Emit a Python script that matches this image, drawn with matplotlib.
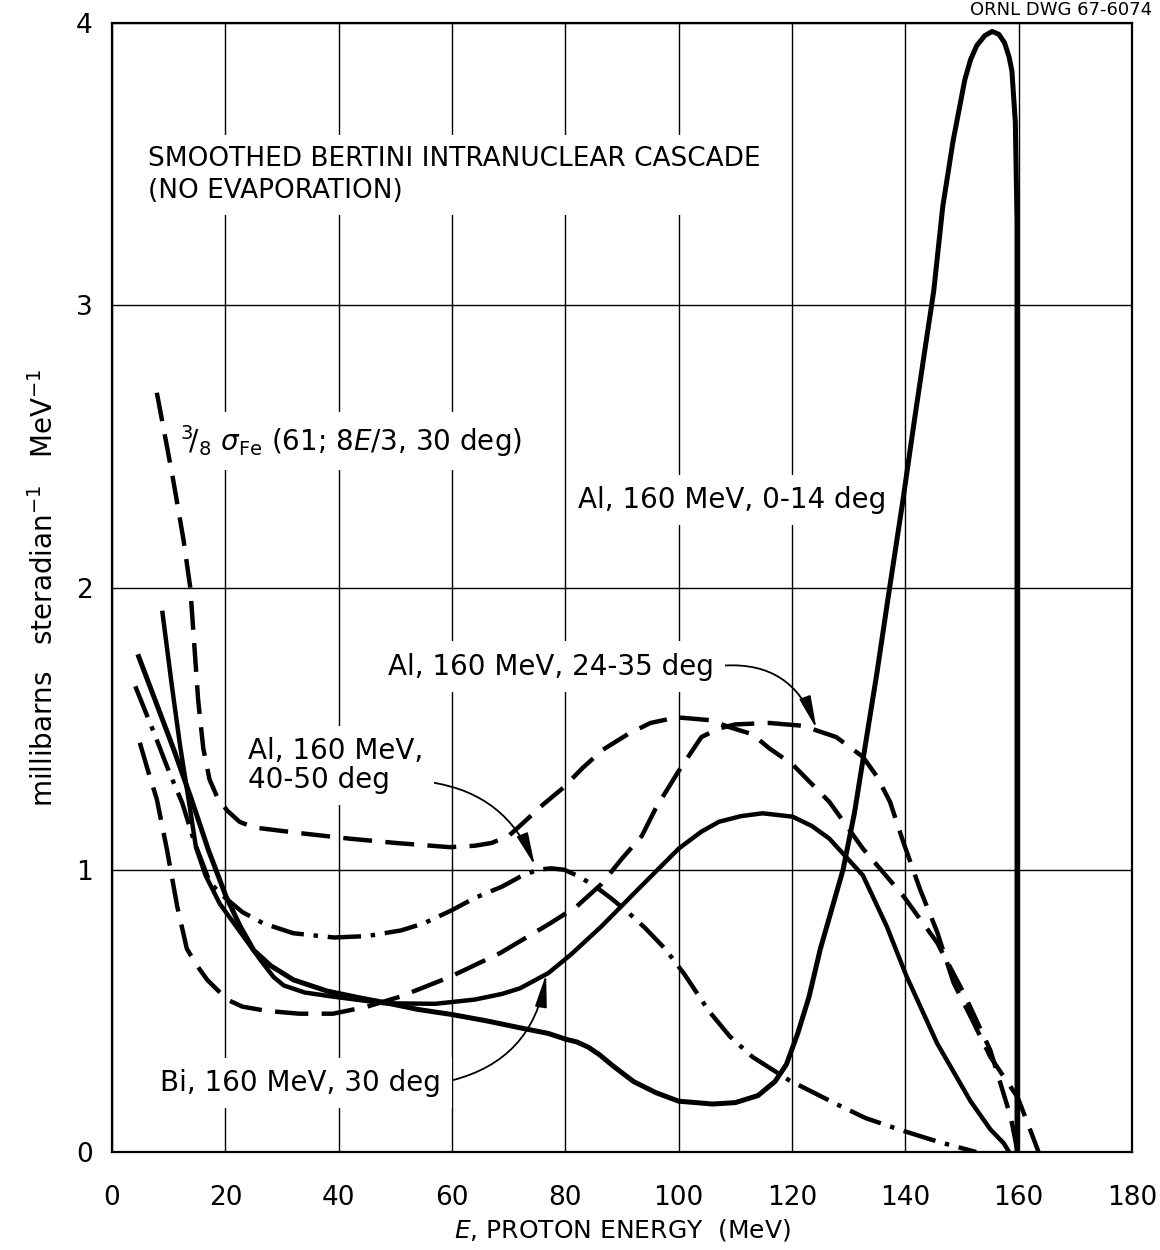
import matplotlib
matplotlib.use("Agg")
import matplotlib.pyplot as plt

plt.rcParams['font.family'] = ['DejaVu Sans']
plt.rcParams['mathtext.fontset'] = 'dejavusans'

# Al, 160 MeV, 0-14 deg (solid)
al14_e = [4.7, 8, 11, 14, 17, 20.1, 22.6, 25, 28, 32, 38, 44, 48, 54, 60, 66, 72, 77, 80, 82, 84, 86, 88.4, 92,
          96, 100, 106, 110, 114, 117, 119, 121, 123, 125, 127, 129, 131, 133, 135, 137, 139.5, 141.5, 143.5,
          145, 146.6, 148.4, 150.5, 151.5, 152.6, 154, 155.3, 156.5, 157.5, 158.3, 158.8, 159.4, 159.7, 159.7]
al14_y = [1.755, 1.58, 1.42, 1.25, 1.07, 0.906, 0.8, 0.715, 0.66, 0.61, 0.57, 0.545, 0.53, 0.505, 0.487, 0.465,
          0.44, 0.42, 0.40, 0.39, 0.372, 0.345, 0.305, 0.25, 0.21, 0.18, 0.17, 0.175, 0.2, 0.25, 0.31, 0.42,
          0.55, 0.72, 0.86, 1.0, 1.2, 1.45, 1.7, 1.97, 2.3, 2.58, 2.85, 3.05, 3.35, 3.58, 3.8, 3.87, 3.92,
          3.955, 3.97, 3.96, 3.93, 3.88, 3.83, 3.65, 3.3, 0.0]

# Bi, 160 MeV, 30 deg (solid)
bi_e = [8.9, 10.5, 12, 13.5, 14.8, 16.5, 19, 22.6, 26.2, 28.5, 30.3, 34, 39.2, 48, 57, 64, 68.8, 72, 77, 81,
        86.4, 92.3, 100, 104, 107.1, 111, 114.8, 120.1, 123.5, 126.6, 132.5, 136.7, 140.2, 145.6, 151.5, 155,
        157.4, 158.3]
bi_y = [1.91, 1.66, 1.44, 1.25, 1.08, 0.98, 0.88, 0.78, 0.68, 0.62, 0.59, 0.565, 0.55, 0.527, 0.525, 0.54,
        0.56, 0.58, 0.634, 0.70, 0.80, 0.92, 1.075, 1.135, 1.17, 1.19, 1.2, 1.188, 1.155, 1.11, 0.98, 0.80,
        0.623, 0.385, 0.18, 0.08, 0.03, 0.0]

# 3/8 sigma_Fe (61; 8E/3, 30 deg) (dashed)
fe_e = [7.9, 9.5, 10.8, 12.6, 13.8, 14.5, 15.2, 16.1, 17.2, 18.5, 20.3, 22.5, 25, 33, 42, 50, 59.6, 64, 67, 70,
        72.5, 76, 79.6, 83, 86.6, 91, 95, 99.7, 105.5, 109, 113, 116, 120.1, 126.6, 132.5, 139.6, 145.6, 150.3,
        155, 158.6, 159.8]
fe_y = [2.69, 2.52, 2.38, 2.17, 2.0, 1.8, 1.6, 1.43, 1.32, 1.26, 1.21, 1.17, 1.15, 1.13, 1.11, 1.095, 1.08,
        1.085, 1.095, 1.12, 1.165, 1.23, 1.29, 1.36, 1.425, 1.48, 1.52, 1.54, 1.53, 1.505, 1.48, 1.43, 1.373,
        1.24, 1.075, 0.908, 0.742, 0.563, 0.36, 0.123, 0.0]

# Al, 160 MeV, 24-35 deg (dashed)
al24_e = [4.9, 6.5, 7.9, 9.7, 11.5, 13.2, 15, 16.8, 20.3, 23, 27.3, 33, 39, 45, 50.8, 59.6, 68.5, 77.3, 82,
          86.4, 90, 93.5, 96, 100, 104, 107, 110, 116, 121.9, 127.8, 132.5, 135, 137.3, 139.6, 142.6, 145.6,
          148.5, 151.5, 155, 159.8, 162, 163.5]
al24_y = [1.45, 1.34, 1.25, 1.07, 0.87, 0.72, 0.66, 0.61, 0.54, 0.515, 0.50, 0.49, 0.49, 0.515, 0.55, 0.62,
          0.705, 0.81, 0.87, 0.95, 1.04, 1.12, 1.22, 1.35, 1.47, 1.50, 1.515, 1.52, 1.51, 1.47, 1.40, 1.33,
          1.24, 1.10, 0.93, 0.78, 0.6, 0.48, 0.337, 0.194, 0.08, 0.0]

# Al, 160 MeV, 40-50 deg (dash-dot)
al40_e = [4.1, 7.7, 10, 12.4, 14.5, 17.3, 20, 23, 26.7, 32, 39.2, 45, 51, 55, 59.9, 64, 68.8, 72, 75.1, 77.5,
          79.8, 82, 85, 88, 91, 94, 97.6, 101, 105.3, 109, 113, 119.5, 127.8, 133, 139.6, 146, 152.5]
al40_y = [1.65, 1.47, 1.35, 1.236, 1.1, 0.953, 0.9, 0.85, 0.81, 0.775, 0.76, 0.765, 0.785, 0.81, 0.856, 0.9,
          0.94, 0.975, 1.0, 1.005, 1.0, 0.98, 0.945, 0.9, 0.85, 0.795, 0.72, 0.63, 0.5, 0.41, 0.337, 0.254,
          0.17, 0.12, 0.075, 0.035, 0.0]

xticks = list(range(0, 181, 20))
yticks = [0, 1, 2, 3, 4]

fig = plt.figure(figsize=(11.6, 12.5), dpi=100)
ax = fig.add_axes([0.0966, 0.0784, 0.8793, 0.9032])

ax.plot(al14_e, al14_y, color='black', lw=3.6, zorder=3)
ax.plot(bi_e, bi_y, color='black', lw=3.2, zorder=3)
ax.plot(fe_e, fe_y, color='black', lw=3.2, linestyle=(0, (6.5, 3.0)), zorder=3)
ax.plot(al24_e, al24_y, color='black', lw=3.2, linestyle=(0, (7.5, 3.0)), zorder=3)
ax.plot(al40_e, al40_y, color='black', lw=3.2, linestyle=(0, (7.5, 2.2, 1.0, 2.2)), zorder=3)

ax.set_xlim(0, 180)
ax.set_ylim(0, 4)
ax.set_xticks(xticks)
ax.set_yticks(yticks)
ax.tick_params(length=0, labelsize=19)
ax.tick_params(axis='x', pad=24)
ax.tick_params(axis='y', pad=14)
ax.grid(True, color='black', lw=1.0)
ax.set_axisbelow(True)
for s in ax.spines.values():
    s.set_linewidth(1.6)

ax.set_xlabel("$E$, PROTON ENERGY  (MeV)", fontsize=18, labelpad=4)
ax.set_ylabel("millibarns   steradian$^{-1}$   MeV$^{-1}$", fontsize=20, labelpad=12)

box = dict(facecolor='white', edgecolor='none', pad=8)
fs = 20

ax.text(6.4, 3.46, "SMOOTHED BERTINI INTRANUCLEAR CASCADE\n(NO EVAPORATION)", fontsize=19,
        ha='left', va='center', linespacing=1.3, bbox=box, zorder=2)
ax.text(12.0, 2.52, r"$^{3}\!/_{8}\ \sigma_{\mathrm{Fe}}$ (61; 8$E$/3, 30 deg)", fontsize=fs,
        ha='left', va='center', bbox=box, zorder=2)
ax.text(82.2, 2.31, "Al, 160 MeV, 0-14 deg", fontsize=fs, ha='left', va='center', bbox=box, zorder=2)

ax.annotate("Al, 160 MeV, 24-35 deg", xy=(124.3, 1.50), xytext=(48.7, 1.72), fontsize=fs,
            ha='left', va='center', bbox=box, zorder=2,
            arrowprops=dict(arrowstyle='-|>,head_length=1.0,head_width=0.18', color='black', lw=1.3,
                            connectionstyle='arc3,rad=-0.4', shrinkA=0, shrinkB=0,
                            relpos=(1.0, 0.5)))
ax.annotate("Al, 160 MeV,\n40-50 deg", xy=(74.6, 1.015), xytext=(24.0, 1.37), fontsize=fs,
            ha='left', va='center', linespacing=1.05, bbox=box, zorder=2,
            arrowprops=dict(arrowstyle='-|>,head_length=1.0,head_width=0.18', color='black', lw=1.3,
                            connectionstyle='arc3,rad=-0.3', shrinkA=0, shrinkB=0,
                            relpos=(1.0, 0.22)))
ax.annotate("Bi, 160 MeV, 30 deg", xy=(76.6, 0.63), xytext=(8.5, 0.245), fontsize=fs,
            ha='left', va='center', bbox=box, zorder=2,
            arrowprops=dict(arrowstyle='-|>,head_length=1.0,head_width=0.18', color='black', lw=1.3,
                            connectionstyle='arc3,rad=0.35', shrinkA=0, shrinkB=0,
                            relpos=(1.0, 0.5)))

fig.text(0.993, 0.9995, "ORNL DWG 67-6074", fontsize=13, ha='right', va='top')

fig.savefig("out.png", dpi=100)
